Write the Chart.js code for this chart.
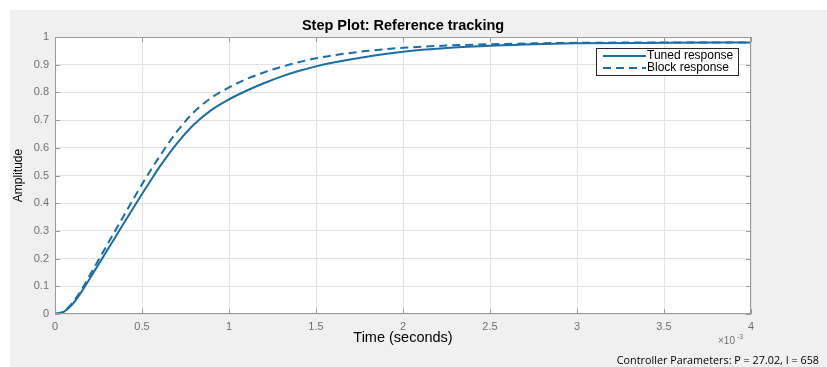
<!DOCTYPE html>
<html>
<head>
<meta charset="utf-8">
<script src="https://cdn.jsdelivr.net/npm/chart.js@4"></script>
<style>
  html, body { margin: 0; padding: 0; background: #ffffff; }
  #wrap { width: 827px; height: 367px; position: relative; }
</style>
</head>
<body>
<div id="wrap"><canvas id="stepChart"></canvas></div>
<script>
// time axis in units of 1e-3 s
const times = [0, 0.05, 0.1, 0.15, 0.2, 0.25, 0.3, 0.35, 0.4, 0.45, 0.5, 0.55, 0.6, 0.7, 0.8, 0.9,
  1.0, 1.1, 1.2, 1.3, 1.4, 1.5, 1.6, 1.8, 2.0, 2.25, 2.5, 2.75, 3.0, 3.5, 4.0];
const tunedResponse = [0, 0.008, 0.035, 0.078, 0.128, 0.179, 0.23, 0.281, 0.332, 0.383, 0.433, 0.482, 0.53, 0.615, 0.685, 0.737,
  0.775, 0.806, 0.833, 0.857, 0.877, 0.894, 0.908, 0.93, 0.947, 0.96, 0.968, 0.974, 0.977, 0.979, 0.98];
const blockResponse = [0, 0.01, 0.04, 0.085, 0.14, 0.195, 0.25, 0.305, 0.36, 0.415, 0.468, 0.519, 0.568, 0.658, 0.73, 0.781,
  0.818, 0.848, 0.872, 0.892, 0.909, 0.923, 0.934, 0.95, 0.961, 0.969, 0.974, 0.977, 0.979, 0.98, 0.98];
const xTicks = [0, 0.5, 1, 1.5, 2, 2.5, 3, 3.5, 4];
const xTickLabels = ["0", "0.5", "1", "1.5", "2", "2.5", "3", "3.5", "4"];
const yTicks = [0, 0.1, 0.2, 0.3, 0.4, 0.5, 0.6, 0.7, 0.8, 0.9, 1];
const yTickLabels = ["0", "0.1", "0.2", "0.3", "0.4", "0.5", "0.6", "0.7", "0.8", "0.9", "1"];
const seriesNames = ["Tuned response", "Block response"];

const lineColor = "#1a6ea6";
const axisColor = "#9a9a9a";
const gridColor = "#e2e2e2";
const tickText = "#707070";
const FONT = "'Liberation Sans', Arial, sans-serif";

const toPoints = (ys) => times.map((t, i) => ({ x: t, y: ys[i] }));

// figure panel, axes box with inward ticks, title, legend, notes
const figurePlugin = {
  id: "figure",
  beforeDraw(chart) {
    const { ctx, chartArea: a } = chart;
    ctx.save();
    ctx.fillStyle = "#f0f0f0";
    ctx.fillRect(10, 10, chart.width - 10, chart.height - 10);
    ctx.fillStyle = "#ffffff";
    ctx.fillRect(a.left, a.top, a.right - a.left, a.bottom - a.top);
    ctx.restore();
  },
  afterDraw(chart) {
    const { ctx, chartArea: a, scales } = chart;
    const x = scales.x, y = scales.y;
    ctx.save();
    ctx.strokeStyle = axisColor;
    ctx.lineWidth = 1;
    ctx.strokeRect(a.left + 0.5, a.top + 0.5, a.right - a.left - 1, a.bottom - a.top - 1);
    ctx.beginPath();
    xTicks.forEach((v) => {
      const px = Math.round(x.getPixelForValue(v)) + 0.5;
      ctx.moveTo(px, a.bottom); ctx.lineTo(px, a.bottom - 5);
      ctx.moveTo(px, a.top); ctx.lineTo(px, a.top + 5);
    });
    yTicks.forEach((v) => {
      const py = Math.round(y.getPixelForValue(v)) + 0.5;
      ctx.moveTo(a.left, py); ctx.lineTo(a.left + 5, py);
      ctx.moveTo(a.right, py); ctx.lineTo(a.right - 5, py);
    });
    ctx.stroke();

    // title
    ctx.fillStyle = "#000000";
    ctx.font = "bold 14.5px " + FONT;
    ctx.textAlign = "center";
    ctx.textBaseline = "middle";
    ctx.fillText("Step Plot: Reference tracking", (a.left + a.right) / 2, 26);

    // exponent marker
    ctx.fillStyle = tickText;
    ctx.font = "10px " + FONT;
    ctx.textAlign = "left";
    ctx.fillText("\u00d710", 718, 341);
    ctx.font = "7px " + FONT;
    ctx.fillText("-3", 737, 337);

    // controller note
    ctx.fillStyle = "#000000";
    ctx.font = "10.8px 'Open Sans', sans-serif";
    ctx.textAlign = "right";
    ctx.fillText("Controller Parameters: P = 27.02, I = 658", 819, 361);

    // legend
    const lx = 596, ly = 48, lw = 142, lh = 27;
    ctx.fillStyle = "#ffffff";
    ctx.fillRect(lx, ly, lw, lh);
    ctx.strokeStyle = "#262626";
    ctx.lineWidth = 1;
    ctx.strokeRect(lx + 0.5, ly + 0.5, lw, lh);
    chart.data.datasets.forEach((ds, i) => {
      const rowY = ly + 8 + i * 12;
      ctx.strokeStyle = ds.borderColor;
      ctx.lineWidth = 2;
      ctx.setLineDash(ds.borderDash || []);
      ctx.beginPath();
      ctx.moveTo(lx + 7, rowY);
      ctx.lineTo(lx + 50, rowY);
      ctx.stroke();
      ctx.setLineDash([]);
      ctx.fillStyle = "#000000";
      ctx.font = "12px " + FONT;
      ctx.textAlign = "left";
      ctx.fillText(ds.label, lx + 51, rowY);
    });
    ctx.restore();
  },
};

const ctx = document.getElementById("stepChart").getContext("2d");
new Chart(ctx, {
  type: "line",
  data: {
    datasets: [
      {
        label: seriesNames[0],
        data: toPoints(tunedResponse),
        borderColor: lineColor,
        borderWidth: 2,
        pointRadius: 0,
        cubicInterpolationMode: "monotone",
        fill: false,
      },
      {
        label: seriesNames[1],
        data: toPoints(blockResponse),
        borderColor: lineColor,
        borderWidth: 2,
        borderDash: [8, 5],
        pointRadius: 0,
        cubicInterpolationMode: "monotone",
        fill: false,
      },
    ],
  },
  options: {
    responsive: true,
    maintainAspectRatio: false,
    animation: false,
    layout: { padding: { left: 10, right: 76, top: 37, bottom: 0 } },
    scales: {
      x: {
        type: "linear",
        min: 0,
        max: 4,
        afterFit: (scale) => { scale.height = 53; },
        afterBuildTicks: (scale) => { scale.ticks = xTicks.map((v) => ({ value: v })); },
        grid: { color: gridColor, drawTicks: false },
        border: { display: false },
        ticks: {
          padding: 6,
          maxRotation: 0,
          color: tickText,
          font: { family: FONT, size: 11 },
          callback: (v) => xTickLabels[xTicks.indexOf(v)],
        },
        title: {
          display: true,
          text: "Time (seconds)",
          color: "#000000",
          font: { family: FONT, size: 14.5 },
          padding: { top: 0, bottom: 20 },
        },
      },
      y: {
        min: 0,
        max: 1,
        afterFit: (scale) => { scale.width = 45; },
        afterBuildTicks: (scale) => { scale.ticks = yTicks.map((v) => ({ value: v })); },
        grid: { color: gridColor, drawTicks: false },
        border: { display: false },
        ticks: {
          padding: 6,
          color: tickText,
          font: { family: FONT, size: 11 },
          callback: (v) => yTickLabels[yTicks.indexOf(v)],
        },
        title: {
          display: true,
          text: "Amplitude",
          color: "#000000",
          font: { family: FONT, size: 12 },
          padding: { top: 1, bottom: 0 },
        },
      },
    },
    plugins: {
      legend: { display: false },
      tooltip: { enabled: false },
    },
  },
  plugins: [figurePlugin],
});
</script>
</body>
</html>
